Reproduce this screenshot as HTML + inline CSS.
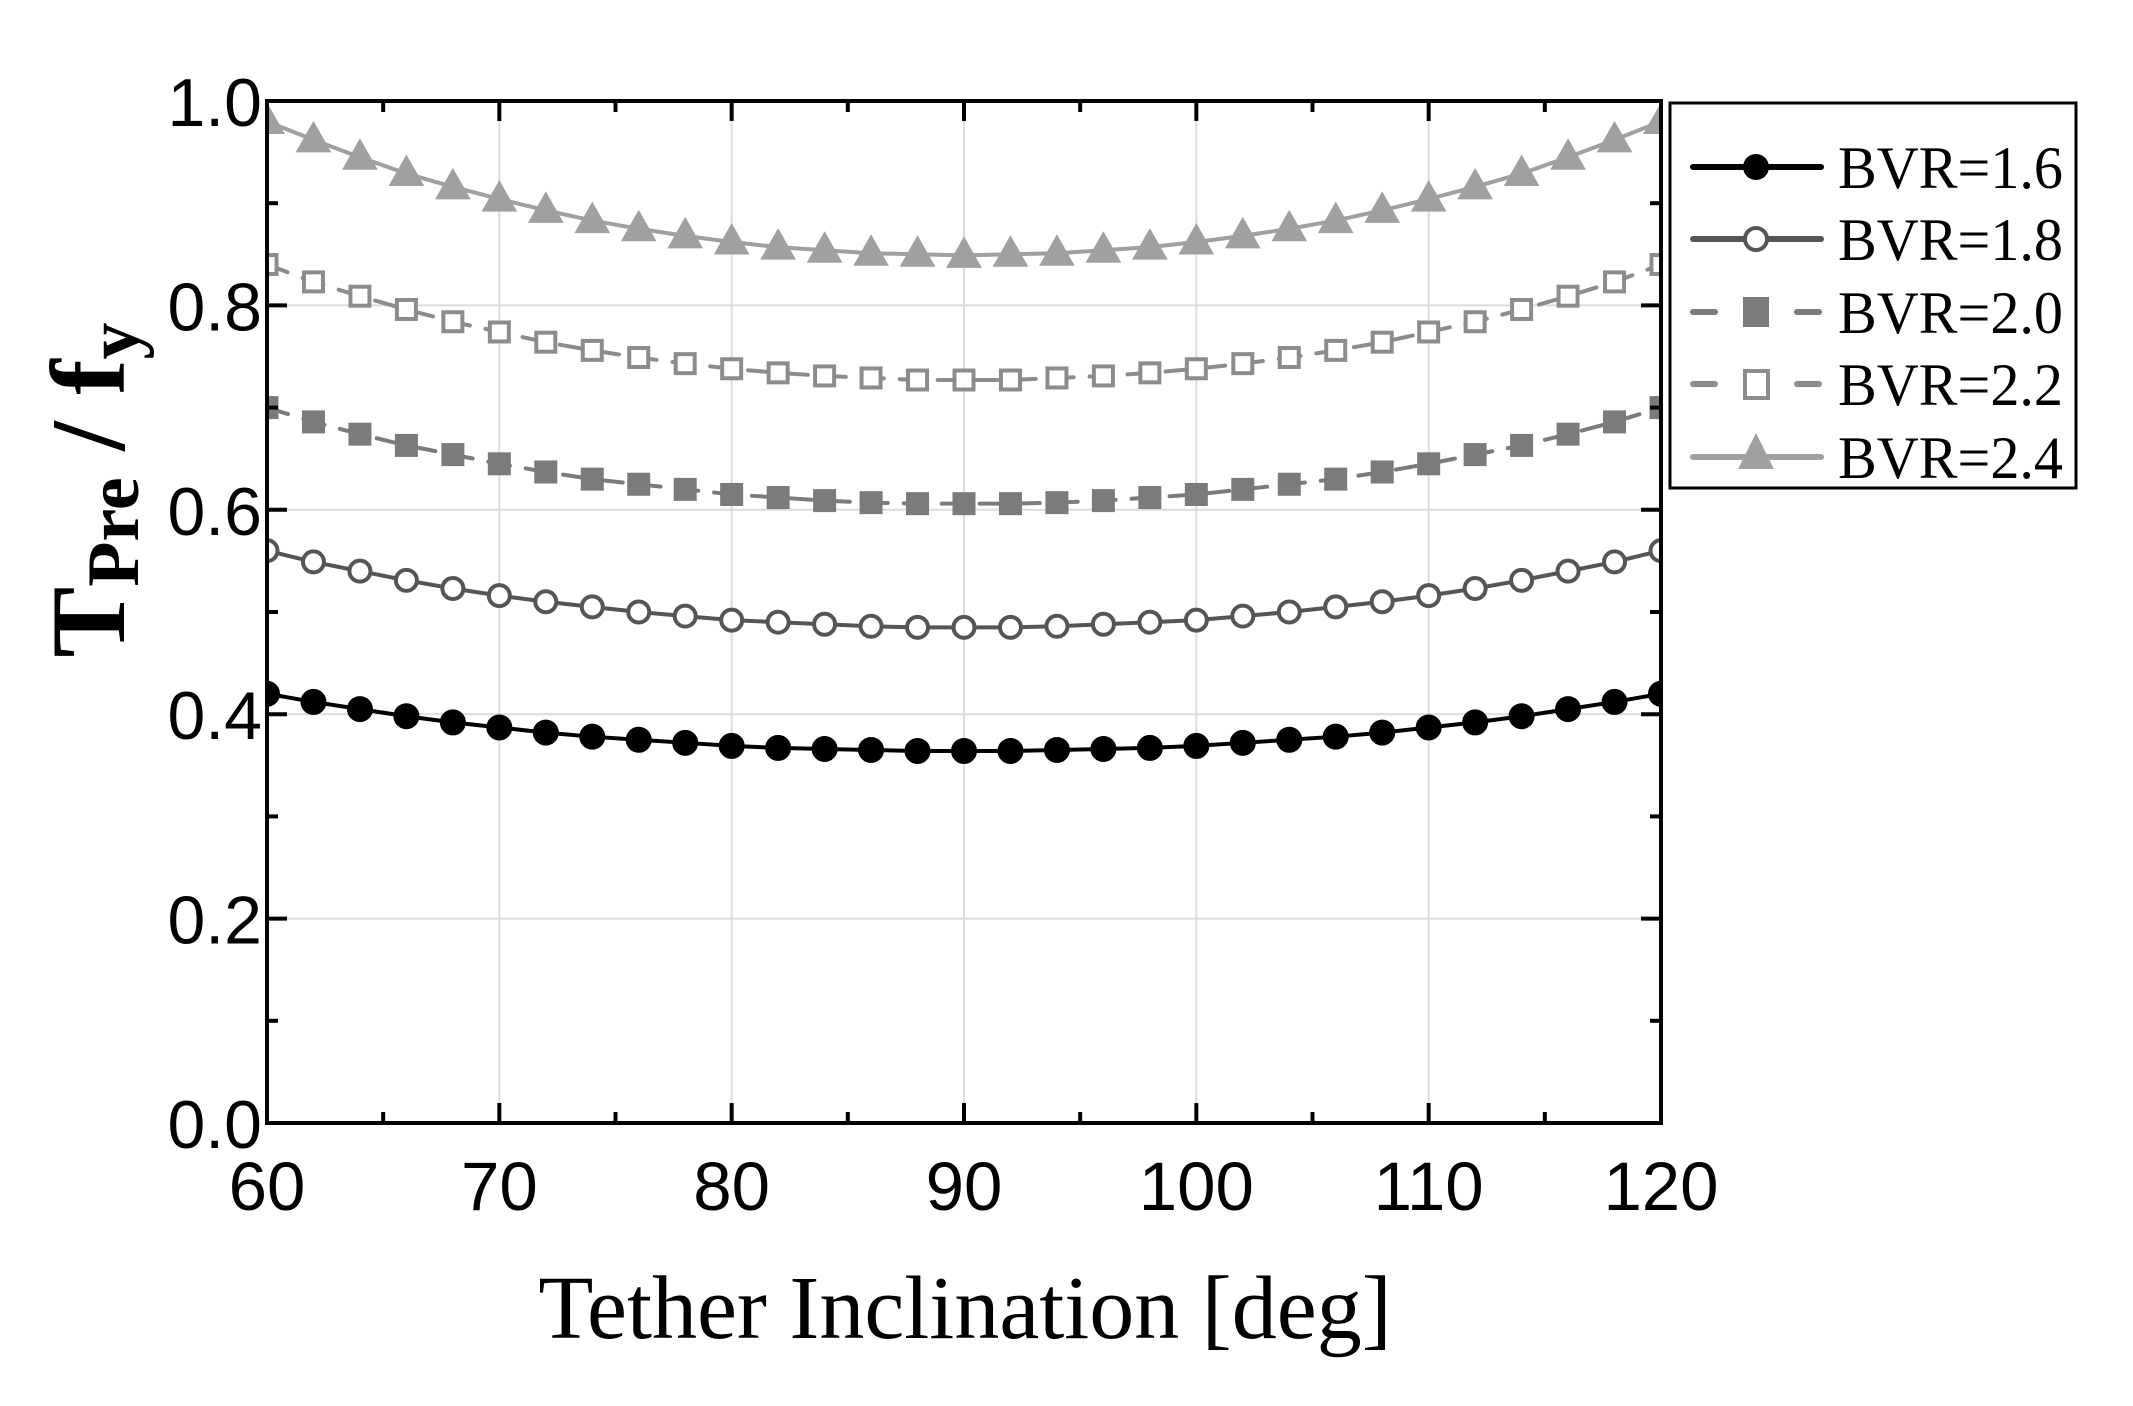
<!DOCTYPE html>
<html><head><meta charset="utf-8"><style>
html,body{margin:0;padding:0;background:#fff;}
svg{display:block;}
</style></head><body>
<svg id="chart" width="2133" height="1406" xmlns="http://www.w3.org/2000/svg"></svg>
<script>
const xTicks = [60,70,80,90,100,110,120];
const yTicks = [0.0,0.2,0.4,0.6,0.8,1.0];
const yTickLabels = ["0.0","0.2","0.4","0.6","0.8","1.0"];
const angles = [60,62,64,66,68,70,72,74,76,78,80,82,84,86,88,90,92,94,96,98,100,102,104,106,108,110,112,114,116,118,120];
const bvr16 = [0.420,0.412,0.405,0.398,0.392,0.387,0.382,0.378,0.375,0.372,0.369,0.367,0.366,0.365,0.364,0.364,0.364,0.365,0.366,0.367,0.369,0.372,0.375,0.378,0.382,0.387,0.392,0.398,0.405,0.412,0.420];
const bvr18 = [0.560,0.549,0.540,0.531,0.523,0.516,0.510,0.505,0.500,0.496,0.492,0.490,0.488,0.486,0.485,0.485,0.485,0.486,0.488,0.490,0.492,0.496,0.500,0.505,0.510,0.516,0.523,0.531,0.540,0.549,0.560];
const bvr20 = [0.700,0.686,0.674,0.663,0.654,0.645,0.637,0.630,0.625,0.620,0.615,0.612,0.609,0.607,0.606,0.606,0.606,0.607,0.609,0.612,0.615,0.620,0.625,0.630,0.637,0.645,0.654,0.663,0.674,0.686,0.700];
const bvr22 = [0.840,0.823,0.809,0.796,0.784,0.774,0.764,0.756,0.749,0.743,0.738,0.734,0.731,0.729,0.727,0.727,0.727,0.729,0.731,0.734,0.738,0.743,0.749,0.756,0.764,0.774,0.784,0.796,0.809,0.823,0.840];
const bvr24 = [0.980,0.962,0.945,0.929,0.916,0.904,0.893,0.883,0.875,0.868,0.862,0.857,0.854,0.851,0.850,0.849,0.850,0.851,0.854,0.857,0.862,0.868,0.875,0.883,0.893,0.904,0.916,0.929,0.945,0.962,0.980];
const seriesNames = ["BVR=1.6","BVR=1.8","BVR=2.0","BVR=2.2","BVR=2.4"];

const NS="http://www.w3.org/2000/svg";
const svg=document.getElementById('chart');
const L=267,R=1661,T=101,B=1123;
const xs=v=>L+(v-60)/60*(R-L);
const ys=v=>B-(v/1.0)*(B-T);
function mk(tag,attrs,parent){const e=document.createElementNS(NS,tag);for(const k in attrs)e.setAttribute(k,attrs[k]);(parent||svg).appendChild(e);return e;}

const grid=mk('g',{});


xTicks.forEach(v=>{if(v>60&&v<120)mk('line',{x1:xs(v),x2:xs(v),y1:T,y2:B,stroke:'#dcdcdc','stroke-width':2},grid);});
yTicks.forEach(v=>{if(v>0&&v<1)mk('line',{x1:L,x2:R,y1:ys(v),y2:ys(v),stroke:'#dcdcdc','stroke-width':2},grid);});

const styles=[
 {c:'#000',dash:null,m:'circle',fill:'#000'},
 {c:'#555',dash:null,m:'circle',fill:'#fff'},
 {c:'#7b7b7b',dash:'22 16',m:'square',fill:'#7b7b7b'},
 {c:'#8c8c8c',dash:'22 16',m:'square',fill:'#fff'},
 {c:'#a0a0a0',dash:null,m:'tri',fill:'#a0a0a0'}
];
const data=[bvr16,bvr18,bvr20,bvr22,bvr24];
function marker(g,m,x,y,c,fill){
  if(m==='circle') return mk('circle',{cx:x,cy:y,r:fill==='#fff'?10.5:12.5,fill:fill,stroke:c,'stroke-width':fill==='#fff'?4:1},g);
  if(m==='square'){const s=fill==='#fff'?19:22;return mk('rect',{x:x-s/2,y:y-s/2,width:s,height:s,fill:fill,stroke:c,'stroke-width':fill==='#fff'?4:1},g);}
  return mk('polygon',{points:`${x},${y-18} ${x-17},${y+12} ${x+17},${y+12}`,fill:fill,stroke:c,'stroke-width':1},g);
}
const clip=mk('clipPath',{id:'pc'});mk('rect',{x:L,y:T-20,width:R-L,height:B-T+40},clip);
data.forEach((arr,i)=>{
  const st=styles[i];
  const g=mk('g',{'clip-path':'url(#pc)'});
  
  
  const pts=angles.map((a,j)=>xs(a)+','+ys(arr[j])).join(' ');
  const pl=mk('polyline',{points:pts,fill:'none',stroke:st.c,'stroke-width':4,'stroke-linecap':'round'},g);
  if(st.dash)pl.setAttribute('stroke-dasharray',st.dash);
  angles.forEach((a,j)=>{const el=marker(g,st.m,xs(a),ys(arr[j]),st.c,st.fill);
    
    });
});

const ax=mk('g',{});


mk('rect',{x:L,y:T,width:R-L,height:B-T,fill:'none',stroke:'#000','stroke-width':4},ax);
for(let v=60;v<=120;v+=5){const maj=v%10===0,len=maj?20:11,x=xs(v);
  mk('line',{x1:x,x2:x,y1:B,y2:B-len,stroke:'#000','stroke-width':4},ax);
  mk('line',{x1:x,x2:x,y1:T,y2:T+len,stroke:'#000','stroke-width':4},ax);}
for(let k=0;k<=10;k++){const v=k/10,maj=k%2===0,len=maj?20:11,y=ys(v);
  mk('line',{x1:L,x2:L+len,y1:y,y2:y,stroke:'#000','stroke-width':4},ax);
  mk('line',{x1:R,x2:R-len,y1:y,y2:y,stroke:'#000','stroke-width':4},ax);}
xTicks.forEach(v=>{const t=mk('text',{x:xs(v),y:1210,'text-anchor':'middle','font-family':'Liberation Sans, sans-serif','font-size':69},ax);t.textContent=v;
  
  });
yTicks.forEach((v,i)=>{const t=mk('text',{x:262,y:ys(v)+25,'text-anchor':'end','font-family':'Liberation Sans, sans-serif','font-size':68},ax);t.textContent=yTickLabels[i];
  
  });
</script>
<svg style="position:absolute;left:0;top:0" width="2133" height="1406">
<text x="965" y="1338" text-anchor="middle" font-family="Liberation Serif, serif" font-size="90">Tether Inclination [deg]</text>
<text transform="translate(124,490) rotate(-90)" text-anchor="middle" font-family="Liberation Serif, serif" font-size="106" font-weight="bold">T<tspan font-size="74" dy="14">Pre</tspan><tspan dy="-14"> / f</tspan><tspan font-size="74" dy="14">y</tspan></text>
<g>
<rect x="1670" y="103" width="406" height="385" fill="#fff" stroke="#000" stroke-width="3"/>
<g><line x1="1693" x2="1821" y1="167" y2="167" stroke="#000" stroke-width="6" stroke-linecap="round"/><circle cx="1756" cy="167" r="13" fill="#000"/><text x="1838" y="188" font-family="Liberation Serif, serif" font-size="60" textLength="225" lengthAdjust="spacingAndGlyphs">BVR=1.6</text></g>
<g><line x1="1693" x2="1821" y1="239" y2="239" stroke="#555" stroke-width="6" stroke-linecap="round"/><circle cx="1756" cy="239" r="11" fill="#fff" stroke="#555" stroke-width="4"/><text x="1838" y="260" font-family="Liberation Serif, serif" font-size="60" textLength="225" lengthAdjust="spacingAndGlyphs">BVR=1.8</text></g>
<g><line x1="1693" x2="1715" y1="312" y2="312" stroke="#7b7b7b" stroke-width="6" stroke-linecap="round"/><line x1="1797" x2="1819" y1="312" y2="312" stroke="#7b7b7b" stroke-width="6" stroke-linecap="round"/><rect x="1743" y="297" width="26" height="30" fill="#7b7b7b"/><text x="1838" y="333" font-family="Liberation Serif, serif" font-size="60" textLength="225" lengthAdjust="spacingAndGlyphs">BVR=2.0</text></g>
<g><line x1="1693" x2="1715" y1="384" y2="384" stroke="#8c8c8c" stroke-width="6" stroke-linecap="round"/><line x1="1797" x2="1819" y1="384" y2="384" stroke="#8c8c8c" stroke-width="6" stroke-linecap="round"/><rect x="1745" y="371" width="23" height="27" fill="#fff" stroke="#8c8c8c" stroke-width="4"/><text x="1838" y="405" font-family="Liberation Serif, serif" font-size="60" textLength="225" lengthAdjust="spacingAndGlyphs">BVR=2.2</text></g>
<g><line x1="1693" x2="1821" y1="457" y2="457" stroke="#a0a0a0" stroke-width="6" stroke-linecap="round"/><polygon points="1756,433 1738,469 1774,469" fill="#a0a0a0"/><text x="1838" y="478" font-family="Liberation Serif, serif" font-size="60" textLength="225" lengthAdjust="spacingAndGlyphs">BVR=2.4</text></g>
</g>
</svg>
</body></html>
